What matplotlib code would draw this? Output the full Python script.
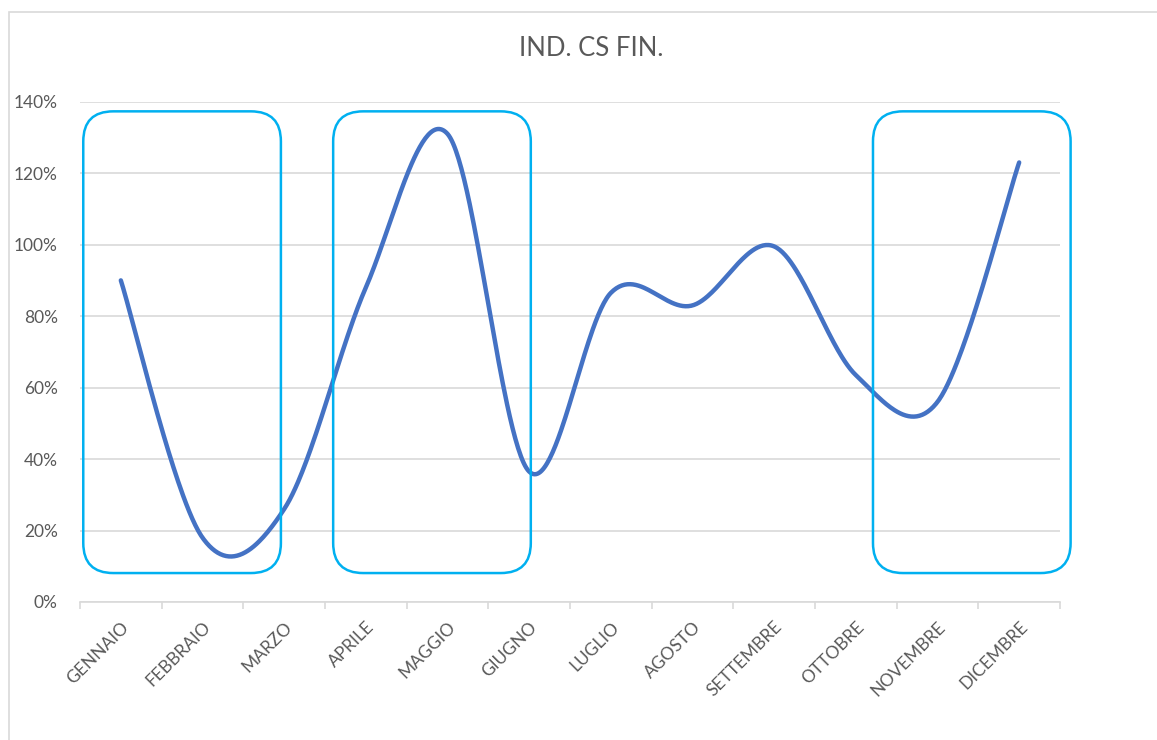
import numpy as np
import matplotlib.pyplot as plt
from matplotlib.patches import FancyBboxPatch, Rectangle
from matplotlib.transforms import IdentityTransform

plt.rcParams['font.family'] = ['Lato', 'DejaVu Sans']

mesi = ['GENNAIO', 'FEBBRAIO', 'MARZO', 'APRILE', 'MAGGIO', 'GIUGNO',
        'LUGLIO', 'AGOSTO', 'SETTEMBRE', 'OTTOBRE', 'NOVEMBRE', 'DICEMBRE']
valori = [0.90, 0.18, 0.26, 0.88, 1.31, 0.365, 0.865, 0.83, 0.995, 0.635, 0.56, 1.23]
y_ticks = [0, 0.2, 0.4, 0.6, 0.8, 1.0, 1.2, 1.4]

# riquadri evidenziati (inizio in mesi, larghezza in mesi)
riquadri_x = [-0.46, 2.60, 9.21]
riquadro_w = 2.42
riquadro_y = (0.081, 1.373)

GRIGIO = '#595959'
GRID = '#D9D9D9'


def smooth(y, n=60):
    # curva smussata tipo Excel (Bezier Catmull-Rom)
    y = np.asarray(y, float)
    x = np.arange(len(y), dtype=float)
    pts = np.column_stack([x, y])
    m = len(pts)
    t = np.linspace(0, 1, n)[:, None]
    out = []
    for i in range(m - 1):
        p0 = pts[i]
        p3 = pts[i + 1]
        prev = pts[max(i - 1, 0)]
        nxt = pts[min(i + 2, m - 1)]
        c1 = p0 + (p3 - prev) / 6
        c2 = p3 - (nxt - p0) / 6
        seg = ((1 - t) ** 3) * p0 + 3 * ((1 - t) ** 2) * t * c1 + 3 * (1 - t) * t ** 2 * c2 + t ** 3 * p3
        out.append(seg if i == 0 else seg[1:])
    out = np.vstack(out)
    return out[:, 0], out[:, 1]


fig = plt.figure(figsize=(11.57, 7.40), dpi=100)
ax = fig.add_axes([80 / 1157, 138 / 740, 980 / 1157, 500.3 / 740])

# bordo del grafico
fig.add_artist(Rectangle((8.5, -20), 1300, 748.5, transform=IdentityTransform(),
                         fill=False, edgecolor=GRID, linewidth=1.2))

xs, ys = smooth(valori)
ax.plot(xs, ys, color='#4472C4', linewidth=3.2, solid_capstyle='round', zorder=3)

ax.set_xlim(-0.5, len(mesi) - 0.5)
ax.set_ylim(0, 1.4)
ax.set_yticks(y_ticks)
ax.set_yticklabels([f'{int(round(v * 100))}%' for v in y_ticks])
ax.yaxis.grid(True, color=GRID, linewidth=1.2)
ax.set_axisbelow(True)

ax.set_xticks(np.arange(-0.5, len(mesi), 1.0))
ax.set_xticklabels([])
ax.set_xticks(np.arange(len(mesi)), minor=True)
ax.set_xticklabels(mesi, minor=True, rotation=45, ha='right', rotation_mode='anchor')
ax.tick_params(axis='x', which='major', length=5, color=GRID, width=1.2)
ax.tick_params(axis='x', which='minor', length=0, pad=12, labelsize=12.5, labelcolor=GRIGIO)
ax.tick_params(axis='y', length=0, pad=16, labelsize=12.5, labelcolor=GRIGIO)

for s in ['top', 'right', 'left']:
    ax.spines[s].set_visible(False)
ax.spines['bottom'].set_color(GRID)
ax.spines['bottom'].set_linewidth(1.2)

fig.text(591 / 1157, 1 - 48 / 740, 'IND. CS FIN.', ha='center', va='center',
         fontsize=18.5, color=GRIGIO)

# riquadri azzurri
fig.canvas.draw()
for x0 in riquadri_x:
    (px0, py0) = ax.transData.transform((x0, riquadro_y[0]))
    (px1, py1) = ax.transData.transform((x0 + riquadro_w, riquadro_y[1]))
    box = FancyBboxPatch((px0, py0), px1 - px0, py1 - py0,
                         boxstyle='round,pad=0,rounding_size=30',
                         transform=IdentityTransform(), fill=False,
                         edgecolor='#00B0F0', linewidth=1.8, zorder=5)
    fig.add_artist(box)

fig.savefig('out.png', dpi=100)
